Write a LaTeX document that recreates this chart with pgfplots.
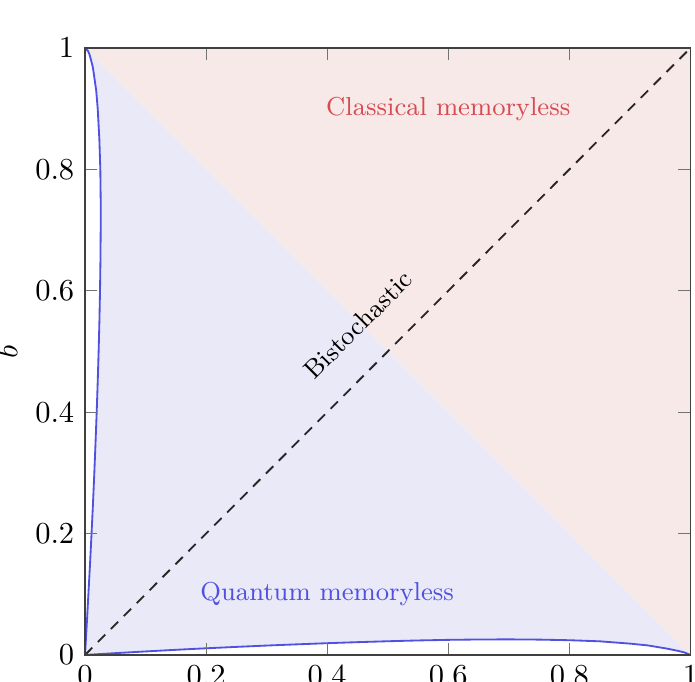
\documentclass[border=0pt]{standalone}
\usepackage{pgfplots}
\usepackage{pgfplotstable}
\pgfplotsset{compat=1.18}
\definecolor{pinkfill}{RGB}{248,233,233}
\definecolor{bluefill}{RGB}{233,233,248}
\definecolor{qblue}{RGB}{80,80,225}
\definecolor{cred}{RGB}{215,75,80}

\pgfplotstableread{
a b
0 0
0.05 0.0030
0.1 0.0058
0.15 0.0085
0.2 0.0110
0.25 0.0133
0.3 0.0155
0.35 0.0175
0.4 0.0194
0.45 0.0211
0.5 0.0226
0.55 0.0239
0.6 0.0249
0.65 0.0255
0.7 0.0257
0.75 0.0253
0.8 0.0243
0.85 0.0225
0.9 0.0187
0.93 0.0157
0.96 0.0107
0.98 0.0067
0.99 0.0042
1 0
}\bottomcurve

\pgfplotstableread{
b a
0 0
0.05 0.0029
0.1 0.0056
0.15 0.0083
0.2 0.0108
0.25 0.0132
0.3 0.0154
0.35 0.0174
0.4 0.0193
0.45 0.0210
0.5 0.0225
0.55 0.0238
0.6 0.0248
0.65 0.0255
0.7 0.0259
0.75 0.0259
0.8 0.0253
0.85 0.0237
0.9 0.0210
0.93 0.0185
0.96 0.0142
0.97 0.0126
0.98 0.0100
0.99 0.0072
0.995 0.0050
1 0
}\leftcurve

\begin{document}
\begin{tikzpicture}
\useasboundingbox (-27.87pt,-8.85pt) rectangle (200pt,214.75pt);
\clip (-27.87pt,-8.85pt) rectangle (200pt,214.75pt);
\begin{axis}[
  at={(0,0)}, anchor=south west,
  scale only axis,
  width=198.5pt, height=199pt,
  xmin=0, xmax=1, ymin=0, ymax=1,
  xtick={0,0.2,0.4,0.6,0.8,1},
  ytick={0,0.2,0.4,0.6,0.8,1},
  major tick length=4pt,
  axis line style={black!75},
  major tick style={black!55},
  axis on top,
  clip=false,
  ylabel={$b$},
  ylabel shift=-1pt,
]
% classical region (above anti-diagonal)
\addplot[fill=pinkfill, draw=none] coordinates {(0,1) (1,1) (1,0)} -- cycle;
% quantum region (below anti-diagonal)
\addplot[fill=bluefill, draw=none] coordinates {(0,0) (1,0) (0,1)} -- cycle;
% white strips outside the quantum curves
\addplot[fill=white, draw=none] table[x=a, y=b] {\bottomcurve} \closedcycle;
\addplot[fill=white, draw=none] table[x=a, y=b] {\leftcurve} \closedcycle;
% bistochastic diagonal
\addplot[black!85, line width=0.6pt, dash pattern=on 3.4pt off 2.6pt] coordinates {(0,0) (1,1)};
% quantum boundary curves
\addplot[qblue, line width=0.6pt] table[x=a, y=b] {\bottomcurve};
\addplot[qblue, line width=0.6pt] table[x=a, y=b] {\leftcurve};
% labels
\node[cred, font=\fontsize{8.5}{10}\selectfont] at (axis cs:0.6,0.9) {Classical memoryless};
\node[qblue, font=\fontsize{8.5}{10}\selectfont] at (axis cs:0.4,0.1) {Quantum memoryless};
\node[black, rotate=45, font=\fontsize{8.5}{10}\selectfont] at (axis cs:0.451,0.544) {Bistochastic};
\end{axis}
\end{tikzpicture}
\end{document}
